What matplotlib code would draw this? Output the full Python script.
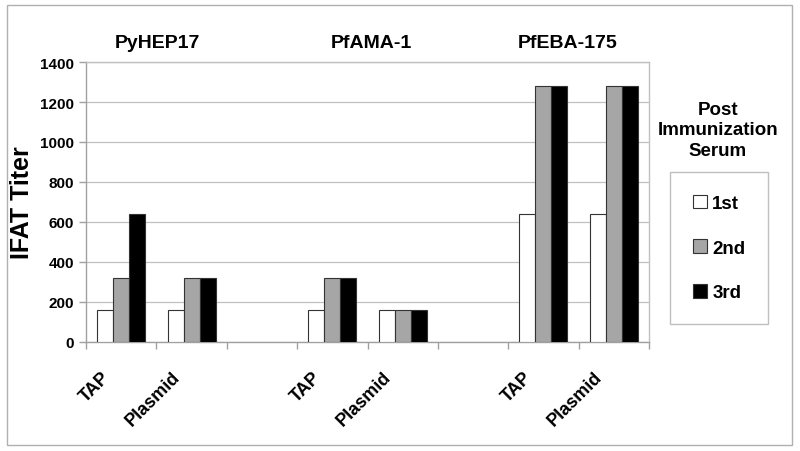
import matplotlib
matplotlib.use("Agg")
import matplotlib.pyplot as plt
from matplotlib.patches import Rectangle
from matplotlib.transforms import ScaledTranslation
import numpy as np

plt.rcParams['font.family'] = ['Liberation Sans', 'DejaVu Sans']

categories = ["TAP", "Plasmid", "", "TAP", "Plasmid", "", "TAP", "Plasmid"]
series_names = ["1st", "2nd", "3rd"]
first = [160, 160, 0, 160, 160, 0, 640, 640]
second = [320, 320, 0, 320, 160, 0, 1280, 1280]
third = [640, 320, 0, 320, 160, 0, 1280, 1280]
groups = ["PyHEP17", "PfAMA-1", "PfEBA-175"]
group_pos = [0.52, 3.56, 6.35]
colors = ["white", "#a6a6a6", "black"]

fig = plt.figure(figsize=(8, 4.52), dpi=100)
ax = fig.add_axes([0.1075, 0.2412, 0.70375, 0.6194])

x = np.arange(len(categories))
w = 0.227
data = [first, second, third]
handles = []
for i, (vals, c, name) in enumerate(zip(data, colors, series_names)):
    xs = [xx for xx, v in zip(x, vals) if v > 0]
    vs = [v for v in vals if v > 0]
    b = ax.bar(np.array(xs) + (i - 1) * w, vs, width=w, color=c,
               edgecolor="#333333", linewidth=0.8, label=name, zorder=3)
    handles.append(b)

ax.set_xlim(-0.5, len(categories) - 0.5)
ax.set_ylim(0, 1400)
ax.set_yticks(range(0, 1401, 200))
ax.yaxis.grid(True, color="#c0c0c0", linewidth=0.9, zorder=0)
ax.set_axisbelow(True)

for s in ["left", "bottom", "top", "right"]:
    ax.spines[s].set_color("#a0a0a0")
    ax.spines[s].set_linewidth(1.0)
ax.spines["top"].set_color("#c0c0c0")
ax.spines["right"].set_color("#c0c0c0")

ax.set_xticks(x)
ax.set_xticklabels(categories, rotation=45, ha="right", va="center",
                   rotation_mode="anchor", fontsize=13, fontweight="bold")
ax.tick_params(axis="x", which="major", length=0, pad=0)
off = ScaledTranslation(-14 / 100, -32 / 100, fig.dpi_scale_trans)
for lbl in ax.get_xticklabels():
    lbl.set_transform(lbl.get_transform() + off)
ax.set_xticks(np.arange(-0.5, len(categories), 1.0), minor=True)
ax.tick_params(axis="x", which="minor", length=5, color="#a0a0a0", width=1)
ax.tick_params(axis="y", length=5, color="#a0a0a0", width=1, labelsize=11)
for t in ax.get_yticklabels():
    t.set_fontweight("bold")

ax.set_ylabel("IFAT Titer", fontsize=18, fontweight="bold")
ax.yaxis.set_label_coords((34 - 86) / 563, 0.5)

for g, p in zip(groups, group_pos):
    ax.text(p, 1.07, g, transform=ax.get_xaxis_transform(), ha="center",
            va="center", fontsize=14, fontweight="bold")

fig.text(718 / 800, 1 - 131 / 452, "Post\nImmunization\nSerum", ha="center",
         va="center", fontsize=13.5, fontweight="bold", linespacing=1.3)

leg = fig.legend(handles=handles, labels=series_names, loc="center",
                 bbox_to_anchor=(719 / 800, 1 - 249 / 452), frameon=True,
                 fancybox=False, edgecolor="#b0b0b0",
                 prop={"weight": "bold", "size": 13.5}, handlelength=0.75,
                 handleheight=0.75, handletextpad=0.3, labelspacing=1.45,
                 borderpad=1.2, borderaxespad=0)
leg.get_frame().set_linewidth(1.0)

fig.patches.append(Rectangle((7 / 800, 6 / 452), 785 / 800, 440 / 452,
                             transform=fig.transFigure, fill=False,
                             edgecolor="#b0b0b0", linewidth=1.0))

fig.savefig("out.png", dpi=100)
